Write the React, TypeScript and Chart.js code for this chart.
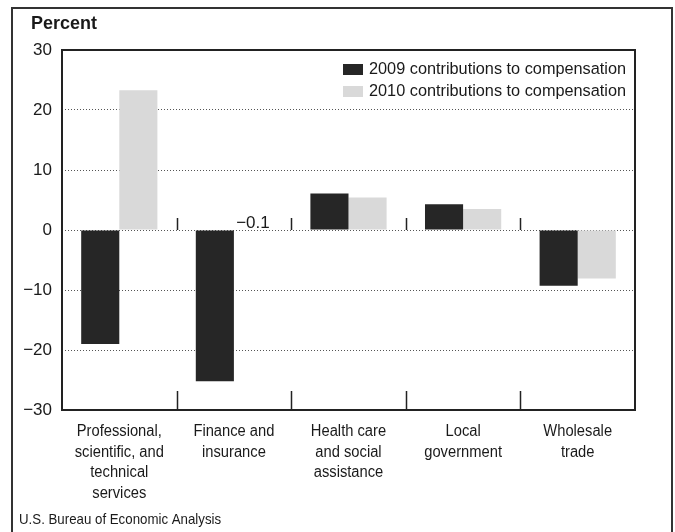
import React, { useEffect, useRef } from "react";
import { Chart, registerables } from "chart.js";
Chart.register(...registerables);

const categories: string[][] = [
  ["Professional,", "scientific, and", "technical", "services"],
  ["Finance and", "insurance"],
  ["Health care", "and social", "assistance"],
  ["Local", "government"],
  ["Wholesale", "trade"],
];
const series2009 = [-19.0, -25.2, 6.1, 4.3, -9.3];
const series2010 = [23.3, -0.1, 5.4, 3.5, -8.1];
const seriesLabels = ["2009 contributions to compensation", "2010 contributions to compensation"];
const seriesColors = ["#262626", "#d9d9d9"];
const yTicks = [-30, -20, -10, 0, 10, 20, 30];
const annotatedValue = { dataset: 1, index: 1, text: "\u22120.1" };
const yTitle = "Percent";
const sourceText = "U.S. Bureau of Economic Analysis";

const SANS = "'Liberation Sans', Arial, Helvetica, sans-serif";

const fmt = (v: number) => (v < 0 ? "\u2212" + Math.abs(v) : String(v));

// draw text slightly condensed horizontally (Helvetica look of the original)
const narrowText = (ctx: CanvasRenderingContext2D, text: string, x: number, y: number, sx: number) => {
  ctx.save();
  ctx.translate(x, y);
  ctx.scale(sx, 1);
  ctx.fillText(text, 0, 0);
  ctx.restore();
};

const decorPlugin = {
  id: "decor",
  afterDatasetsDraw(chart: any) {
    const ctx = chart.ctx as CanvasRenderingContext2D;
    const { left, right, top, bottom } = chart.chartArea;
    const x = chart.scales.x;
    const y = chart.scales.y;
    ctx.save();
    // plot frame
    ctx.strokeStyle = "#222";
    ctx.lineWidth = 2;
    ctx.strokeRect(left, top, right - left, bottom - top);
    // category separators
    const n = categories.length;
    const step = x.getPixelForValue(1) - x.getPixelForValue(0);
    const zeroY = y.getPixelForValue(0);
    ctx.lineWidth = 1.5;
    for (let i = 0; i < n - 1; i++) {
      const sx = Math.round(x.getPixelForValue(i) + step / 2) + 0.5;
      ctx.beginPath();
      ctx.moveTo(sx, zeroY - 12);
      ctx.lineTo(sx, zeroY);
      ctx.moveTo(sx, bottom - 19);
      ctx.lineTo(sx, bottom);
      ctx.stroke();
    }
    // category labels (from the x scale positions)
    ctx.fillStyle = "#1a1a1a";
    ctx.font = "16px " + SANS;
    ctx.textAlign = "center";
    ctx.textBaseline = "middle";
    categories.forEach((lines, i) => {
      const cx = x.getPixelForValue(i);
      lines.forEach((ln, j) => narrowText(ctx, ln, cx, bottom + 22 + j * 20.5, 0.92));
    });
    // annotation of tiny value
    const meta = chart.getDatasetMeta(annotatedValue.dataset);
    const el = meta.data[annotatedValue.index];
    ctx.font = "17px " + SANS;
    ctx.fillText(annotatedValue.text, el.x, zeroY - 7);
    // legend
    ctx.textAlign = "left";
    ctx.font = "16.3px " + SANS;
    for (let i = 0; i < seriesLabels.length; i++) {
      const ly = 64 + i * 22;
      ctx.fillStyle = seriesColors[i];
      ctx.fillRect(right - 292, ly, 20, 11);
      ctx.fillStyle = "#1a1a1a";
      ctx.fillText(seriesLabels[i], right - 266, ly + 6);
    }
    // title
    ctx.font = "bold 18px " + SANS;
    ctx.fillText(yTitle, 31, 24);
    // source
    ctx.font = "15px " + SANS;
    narrowText(ctx, sourceText, 19, 520, 0.885);
    // outer frame
    ctx.strokeStyle = "#333";
    ctx.lineWidth = 2;
    ctx.strokeRect(12, 8, 660, 540);
    ctx.restore();
  },
};

export default function App() {
  const ref = useRef<HTMLCanvasElement | null>(null);
  useEffect(() => {
    if (!ref.current) return;
    const chart = new Chart(ref.current, {
      type: "bar",
      data: {
        labels: categories,
        datasets: [
          { label: seriesLabels[0], data: series2009, backgroundColor: seriesColors[0], categoryPercentage: 0.665, barPercentage: 1 },
          { label: seriesLabels[1], data: series2010, backgroundColor: seriesColors[1], categoryPercentage: 0.665, barPercentage: 1 },
        ],
      },
      options: {
        responsive: false,
        animation: false,
        events: [],
        layout: { padding: { top: 50, right: 40, bottom: 0, left: 0 } },
        plugins: { legend: { display: false }, tooltip: { enabled: false }, title: { display: false } },
        scales: {
          x: {
            grid: { display: false, drawTicks: false },
            border: { display: false },
            ticks: { display: false },
            afterFit: (s: any) => { s.height = 122; },
          },
          y: {
            min: -30,
            max: 30,
            afterBuildTicks: (s: any) => { s.ticks = yTicks.map((v) => ({ value: v })); },
            grid: { color: "#555", lineWidth: 1, drawTicks: false, borderDash: [1, 2] } as any,
            border: { display: false, dash: [1, 2] },
            ticks: {
              color: "#1a1a1a",
              font: { family: SANS, size: 17 },
              padding: 10,
              callback: (v: any) => fmt(Number(v)),
            },
            afterFit: (s: any) => { s.width = 62; },
          },
        },
      },
      plugins: [decorPlugin],
    });
    return () => chart.destroy();
  }, []);
  return (
    <div style={{ position: "absolute", left: 0, top: 0, width: 675, height: 532, background: "#fff" }}>
      <canvas ref={ref} width={675} height={532} style={{ display: "block" }} />
    </div>
  );
}
